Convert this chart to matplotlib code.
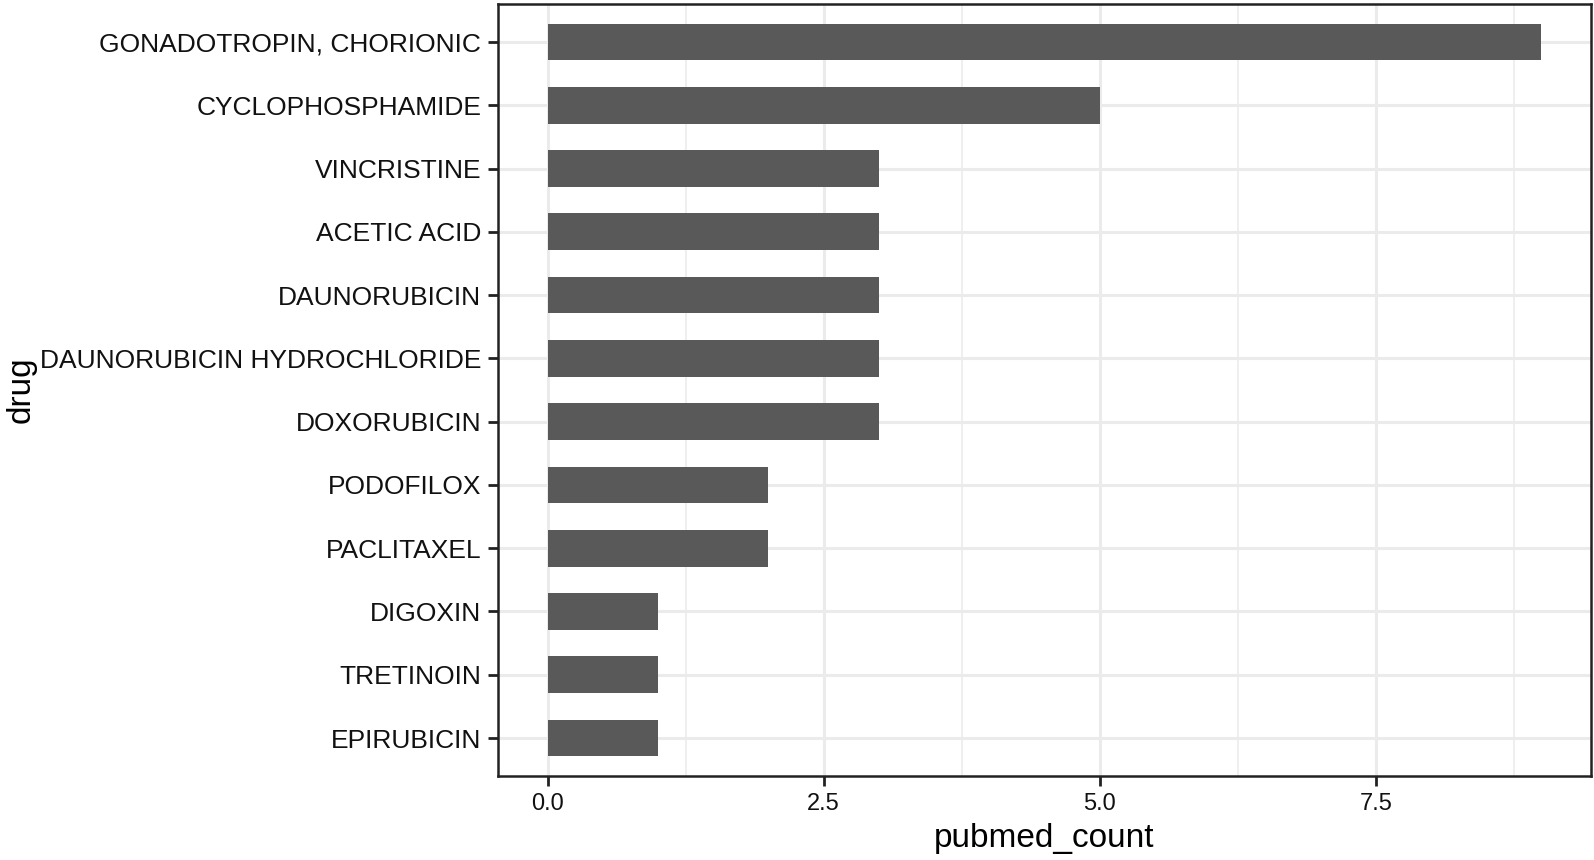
import numpy as np
import matplotlib.pyplot as plt

# data, top to bottom as shown
drugs = ['GONADOTROPIN, CHORIONIC', 'CYCLOPHOSPHAMIDE', 'VINCRISTINE', 'ACETIC ACID',
         'DAUNORUBICIN', 'DAUNORUBICIN HYDROCHLORIDE', 'DOXORUBICIN', 'PODOFILOX',
         'PACLITAXEL', 'DIGOXIN', 'TRETINOIN', 'EPIRUBICIN']
pubmed_count = [9, 5, 3, 3, 3, 3, 3, 2, 2, 1, 1, 1]
x_ticks = [0.0, 2.5, 5.0, 7.5]
x_ticklabels = ['0.0', '2.5', '5.0', '7.5']

plt.rcParams['font.family'] = ['Liberation Sans', 'DejaVu Sans']

fig = plt.figure(figsize=(15.94, 8.6), dpi=100)
ax = fig.add_axes([498 / 1594, 1 - 776 / 860, (1591 - 498) / 1594, (776 - 4) / 860])

y = np.arange(len(drugs))[::-1]
ax.barh(y, pubmed_count, height=0.58, color='#595959', zorder=3)

ax.set_xlim(-0.45, 9.45)
ax.set_ylim(-0.6, len(drugs) - 0.4)

# grid like theme_bw
ax.set_xticks(x_ticks)
ax.set_xticklabels(x_ticklabels)
ax.set_xticks([1.25, 3.75, 6.25, 8.75], minor=True)
ax.set_yticks(y)
ax.set_yticklabels(drugs)
ax.grid(which='major', color='#ebebeb', linewidth=2.2, zorder=0)
ax.grid(which='minor', axis='x', color='#ebebeb', linewidth=1.1, zorder=0)
ax.set_axisbelow(True)

ax.tick_params(which='major', length=7, width=2, color='#222222', labelsize=17,
               labelcolor='#111111', pad=5)
ax.tick_params(axis='y', labelsize=19)
ax.tick_params(which='minor', length=0)
for s in ax.spines.values():
    s.set_color('#222222')
    s.set_linewidth(1.8)

ax.set_xlabel('pubmed_count', fontsize=24, labelpad=6)
ax.set_ylabel('drug', fontsize=24, labelpad=2)

fig.savefig('out.png', dpi=100)
